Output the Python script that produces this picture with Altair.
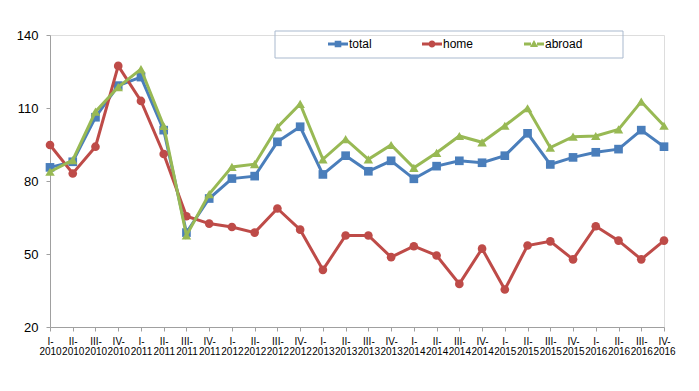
import altair as alt
import pandas as pd

quarters = ["I-2010", "II-2010", "III-2010", "IV-2010",
            "I-2011", "II-2011", "III-2011", "IV-2011",
            "I-2012", "II-2012", "III-2012", "IV-2012",
            "I-2013", "II-2013", "III-2013", "IV-2013",
            "I-2014", "II-2014", "III-2014", "IV-2014",
            "I-2015", "II-2015", "III-2015", "IV-2015",
            "I-2016", "II-2016", "III-2016", "IV-2016"]

total = [85.6, 87.9, 106.2, 119.2, 122.7, 100.9, 58.8, 72.8,
         81.0, 82.0, 96.1, 102.3, 82.7, 90.4, 84.0, 88.3,
         80.9, 86.1, 88.3, 87.5, 90.4, 99.6, 86.8, 89.7,
         91.8, 93.1, 100.9, 94.1]
home = [94.8, 83.1, 94.1, 127.3, 112.9, 91.1, 65.5, 62.5,
        61.1, 58.8, 68.7, 60.0, 43.5, 57.6, 57.6, 48.7,
        53.2, 49.4, 37.7, 52.2, 35.4, 53.5, 55.2, 47.8,
        61.4, 55.5, 47.8, 55.5]
abroad = [83.8, 88.6, 108.5, 118.6, 126.0, 102.6, 57.6, 74.6,
          85.8, 86.9, 102.1, 111.7, 88.9, 97.2, 88.9, 94.8,
          85.4, 91.6, 98.5, 95.9, 102.7, 109.9, 93.7, 98.2,
          98.5, 101.2, 112.6, 102.7]

series_names = ["total", "home", "abroad"]
series_colors = ["#4A7EBB", "#BE4B48", "#98B954"]
series_shapes = ["square", "circle", "triangle-up"]
y_ticks = [20, 50, 80, 110, 140]

rows = []
for name, vals in zip(series_names, [total, home, abroad]):
    for q, v in zip(quarters, vals):
        rows.append({"quarter": q, "series": name, "value": v})
df = pd.DataFrame(rows)

FONT = "Liberation Sans"

x_enc = alt.X("quarter:N", sort=quarters, title=None,
              scale=alt.Scale(type="point", padding=0),
              axis=alt.Axis(labelAngle=0, labelFontSize=10, labelFont=FONT,
                            labelColor="#000000", labelOverlap=False,
                            labelBound=False, labelFlush=False,
                            labelLineHeight=10, labelPadding=5,
                            labelExpr="[split(datum.value, '-')[0] + '-', split(datum.value, '-')[1]]",
                            tickSize=4, tickColor="#A0A0A0",
                            domainColor="#A0A0A0", grid=False))
y_enc = alt.Y("value:Q", title=None,
              scale=alt.Scale(domain=[20, 140], nice=False, zero=False),
              axis=alt.Axis(values=y_ticks, labelFontSize=13, labelFont=FONT,
                            labelColor="#000000", labelPadding=8,
                            tickSize=4, tickColor="#A0A0A0",
                            domainColor="#A0A0A0", grid=False))

layers = []
for name, col, shp in zip(series_names, series_colors, series_shapes):
    base = alt.Chart(df).transform_filter(alt.datum.series == name)
    layers.append(base.mark_line(color=col, strokeWidth=3).encode(x=x_enc, y=y_enc))
    layers.append(base.mark_point(color=col, filled=True, opacity=1, shape=shp,
                                  size=75 if shp != "triangle-up" else 90)
                  .encode(x=x_enc, y=y_enc))

# legend symbols: line with marker
legend_paths = [
    "M-1,-0.15H-0.3V0.15H-1Z M0.3,-0.15H1V0.15H0.3Z M-0.33,-0.33H0.33V0.33H-0.33Z",
    "M-1,-0.15H-0.3V0.15H-1Z M0.3,-0.15H1V0.15H0.3Z M-0.35,0A0.35,0.35 0 1,1 0.35,0A0.35,0.35 0 1,1 -0.35,0Z",
    "M-1,-0.15H-0.3V0.15H-1Z M0.3,-0.15H1V0.15H0.3Z M0,-0.4L0.4,0.3H-0.4Z",
]
legend_layer = alt.Chart(df).transform_filter("false").mark_point(
    filled=True, opacity=1, size=400).encode(
    color=alt.Color("series:N", scale=alt.Scale(domain=series_names, range=series_colors),
                    legend=alt.Legend(title=None, orient="none", direction="horizontal",
                                      legendX=278, legendY=-1,
                                      labelFont=FONT, labelFontSize=12,
                                      labelColor="#000000", labelOffset=1,
                                      columnPadding=50, symbolSize=400,
                                      symbolStrokeWidth=0, padding=0)),
    shape=alt.Shape("series:N", scale=alt.Scale(domain=series_names, range=legend_paths)),
)

frame = alt.Chart(alt.Data(values=[{"a": 1}])).mark_rect(
    fill="white", fillOpacity=0, stroke="#A9B9CE", strokeWidth=1).encode(
    x=alt.value(225), x2=alt.value(573), y=alt.value(-4), y2=alt.value(23))

chart = alt.layer(frame, *layers, legend_layer).properties(
    width=614, height=292,
    padding={"left": 42, "top": 27, "right": 20, "bottom": 45},
    autosize=alt.AutoSizeParams(type="none"),
).configure_view(stroke=None).configure(background="white")

chart.save("out.html", embed_options={"renderer": "svg", "actions": False})
